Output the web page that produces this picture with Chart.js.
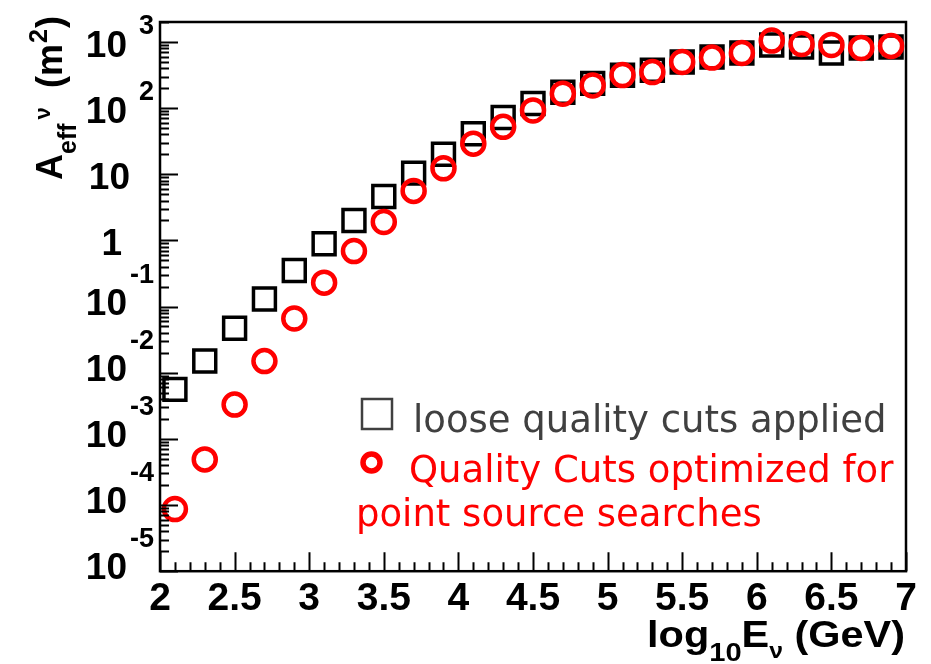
<!DOCTYPE html>
<html>
<head>
<meta charset="utf-8">
<script src="https://cdn.jsdelivr.net/npm/chart.js@4.4.1/dist/chart.umd.min.js"></script>
<style>
  html, body { margin: 0; padding: 0; background: #fff; }
  canvas { display: block; }
</style>
</head>
<body>
<canvas id="aeffChart" width="931" height="664"></canvas>
<script>
// log10 of neutrino energy (GeV), bin centres
const energies = [2.1, 2.3, 2.5, 2.7, 2.9, 3.1, 3.3, 3.5, 3.7, 3.9, 4.1, 4.3, 4.5,
                  4.7, 4.9, 5.1, 5.3, 5.5, 5.7, 5.9, 6.1, 6.3, 6.5, 6.7, 6.9];

// effective area (m^2), loose quality cuts
const looseCuts = [0.0056, 0.015, 0.047, 0.13, 0.35, 0.89, 2.0, 4.6, 10.4, 20, 41, 72, 117,
                   173, 236, 314, 373, 497, 590, 680, 900, 840, 680, 810, 840];

// effective area (m^2), point source cuts
const pointSourceCuts = [0.000087, 0.00049, 0.0033, 0.015, 0.066, 0.23, 0.69, 1.9, 5.6, 12.3, 29, 52, 92,
                         165, 220, 316, 350, 497, 580, 680, 1050, 930, 900, 810, 870];

// y axis decade labels (exponents)
const yExponents = [3, 2, 1, 0, -1, -2, -3, -4, -5];

const legendLines = ['loose quality cuts applied', 'Quality Cuts optimized for', 'point source searches'];

function toPoints(xs, ys) {
    return xs.map((x, i) => ({ x: x, y: ys[i] }));
}

const BOLD = 'bold {s}px "Liberation Sans", Arial, sans-serif';
function boldFont(size) {
    return BOLD.replace('{s}', size);
}

// Frame, inward ticks, axis labels with superscripts, and the legend
const decorations = {
    id: 'decorations',
    afterDraw(chart) {
        const ctx = chart.ctx;
        const area = chart.chartArea;
        const xs = chart.scales.x;
        const ys = chart.scales.y;
        ctx.save();

        // frame
        ctx.strokeStyle = '#000';
        ctx.lineWidth = 2.5;
        ctx.strokeRect(area.left, area.top, area.right - area.left, area.bottom - area.top);

        // y ticks (left side only)
        ctx.lineWidth = 2;
        ctx.beginPath();
        for (let e = -5; e <= 3; e++) {
            for (let k = 1; k <= 9; k++) {
                const v = k * Math.pow(10, e);
                if (v < ys.min || v > ys.max) continue;
                const py = Math.round(ys.getPixelForValue(v)) + 0.5;
                const len = k === 1 ? 18 : 9;
                ctx.moveTo(area.left, py);
                ctx.lineTo(area.left + len, py);
            }
        }
        // x ticks (bottom only)
        for (let i = 0; i <= 50; i++) {
            const v = 2 + i * 0.1;
            const px = Math.round(xs.getPixelForValue(v)) + 0.5;
            const len = i % 5 === 0 ? 19 : 9;
            ctx.moveTo(px, area.bottom);
            ctx.lineTo(px, area.bottom - len);
        }
        ctx.stroke();

        // y tick labels
        ctx.fillStyle = '#000';
        ctx.textAlign = 'right';
        ctx.textBaseline = 'alphabetic';
        yExponents.forEach(e => {
            const py = ys.getPixelForValue(Math.pow(10, e));
            if (e === 0) {
                ctx.font = boldFont(37);
                ctx.fillText('1', 122, py + 15);
            } else if (e === 1) {
                ctx.font = boldFont(37);
                ctx.fillText('10', 130, py + 15);
            } else {
                const neg = e < 0;
                ctx.font = boldFont(37);
                ctx.fillText('10', 127, py + (neg ? 8 : 15));
                ctx.font = boldFont(27);
                ctx.fillText(String(e), 154, py + (neg ? -24 : -8));
            }
        });

        // y axis title: A_eff^nu (m^2), rotated
        ctx.save();
        ctx.translate(62, 180);
        ctx.rotate(-Math.PI / 2);
        ctx.textAlign = 'left';
        let u = 0;
        ctx.font = boldFont(36);
        ctx.fillText('A', u, 0);
        u += ctx.measureText('A').width;
        ctx.font = boldFont(25);
        ctx.fillText('eff', u, 14);
        u += ctx.measureText('eff').width + 4;
        ctx.font = boldFont(22);
        ctx.fillText('\u03bd', u, -12);
        u = 92;
        ctx.font = boldFont(36);
        ctx.fillText('(m', u, 0);
        u += ctx.measureText('(m').width + 1;
        ctx.font = boldFont(25);
        ctx.fillText('2', u, -15);
        u += ctx.measureText('2').width + 1;
        ctx.font = boldFont(36);
        ctx.fillText(')', u, 0);
        ctx.restore();

        // x axis title: log10 E_nu (GeV), right aligned, a little wide like the original
        ctx.textAlign = 'left';
        const parts = [
            { t: 'log', f: boldFont(37), dy: 0 },
            { t: '10', f: boldFont(26), dy: 14 },
            { t: 'E', f: boldFont(37), dy: 0 },
            { t: '\u03bd', f: boldFont(22), dy: 11 },
            { t: ' (GeV)', f: boldFont(37), dy: 0 }
        ];
        const stretch = 1.12;
        let total = 0;
        parts.forEach(p => { ctx.font = p.f; p.w = ctx.measureText(p.t).width; total += p.w; });
        ctx.save();
        ctx.translate(905 - total * stretch, 647);
        ctx.scale(stretch, 1);
        let x = 0;
        parts.forEach(p => {
            ctx.font = p.f;
            ctx.fillText(p.t, x, p.dy);
            x += p.w;
        });
        ctx.restore();

        // legend
        ctx.strokeStyle = '#404040';
        ctx.lineWidth = 2.5;
        ctx.strokeRect(362, 399, 30, 30);
        ctx.strokeStyle = '#ff0000';
        ctx.lineWidth = 5.5;
        ctx.beginPath();
        ctx.arc(371.5, 462.5, 8.5, 0, Math.PI * 2);
        ctx.stroke();

        ctx.font = '37px "DejaVu Sans", sans-serif';
        ctx.fillStyle = '#404040';
        ctx.fillText(legendLines[0], 413, 432);
        ctx.fillStyle = '#ff0000';
        ctx.fillText(legendLines[1], 409, 482);
        ctx.fillText(legendLines[2], 356, 526);

        ctx.restore();
    }
};

const ctx = document.getElementById('aeffChart').getContext('2d');
const aeffChart = new Chart(ctx, {
    type: 'scatter',
    data: {
        datasets: [
            {
                label: 'Quality Cuts optimized for point source searches',
                data: toPoints(energies, pointSourceCuts),
                pointStyle: 'circle',
                pointRadius: 11,
                borderWidth: 4.5,
                borderColor: '#ff0000',
                backgroundColor: 'rgba(0,0,0,0)'
            },
            {
                label: 'loose quality cuts applied',
                data: toPoints(energies, looseCuts),
                pointStyle: 'rect',
                pointRadius: 15.5,
                borderWidth: 3.5,
                borderColor: '#000000',
                backgroundColor: 'rgba(0,0,0,0)'
            }
        ]
    },
    options: {
        responsive: false,
        animation: false,
        devicePixelRatio: 1,
        layout: {
            padding: { left: 160, right: 25, top: 22, bottom: 36 }
        },
        plugins: {
            legend: { display: false },
            tooltip: { enabled: false }
        },
        scales: {
            x: {
                type: 'linear',
                min: 2,
                max: 7,
                grid: { display: false, drawTicks: false, tickLength: 0 },
                border: { display: false },
                ticks: {
                    stepSize: 0.5,
                    autoSkip: false,
                    maxRotation: 0,
                    padding: 5,
                    color: '#000',
                    font: { family: '"Liberation Sans", Arial, sans-serif', weight: 'bold', size: 39 },
                    callback: (v) => String(v)
                }
            },
            y: {
                type: 'logarithmic',
                min: 1e-5,
                max: 2000,
                display: false
            }
        }
    },
    plugins: [decorations]
});
</script>
</body>
</html>
